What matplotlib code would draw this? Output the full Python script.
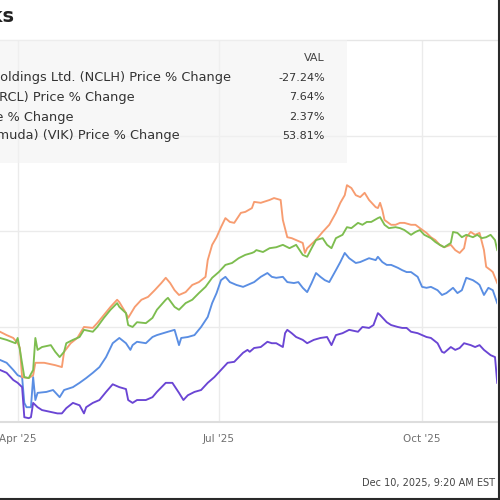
import pandas as pd
import matplotlib
matplotlib.use("Agg")
import matplotlib.pyplot as plt
from matplotlib.patches import Rectangle
from matplotlib.lines import Line2D

# ==========================================================
# Data (days counted from START)
# ==========================================================

START = "2025-03-24"

nclh_days = [0, 3, 6, 8, 10, 11, 12, 14, 15, 16, 17, 21, 24, 27, 29, 33, 36, 39, 42, 45,
             48, 51, 54, 57, 59, 60, 62, 66, 69, 71, 76, 79, 81, 82, 85, 88, 91, 94, 96, 98,
             100, 102, 104, 107, 110, 112, 114, 115, 118, 121, 123, 125, 128, 130, 133,
             135, 137, 139, 141, 143, 145, 147, 149, 152, 154, 156, 158, 161, 163, 165,
             167, 170, 171, 173, 175, 177, 180, 182, 184, 186, 189, 191, 193, 195, 198,
             200, 202, 205, 207, 209, 211, 214, 216, 217, 219, 221, 223, 225]
nclh_pct = [-27.0, -27.6, -29.1, -30.2, -30.6, -36.0, -36.9, -36.9, -30.6, -35.4,
            -33.9, -33.7, -33.3, -34.8, -33.3, -32.7, -31.8, -30.8, -29.7, -28.5,
            -26.4, -23.5, -22.4, -23.5, -24.9, -23.9, -23.2, -23.5, -22.2, -21.8,
            -21.1, -20.7, -23.9, -22.4, -22.2, -21.8, -20.1, -18.0, -15.1, -13.0,
            -10.3, -9.6, -10.7, -11.3, -11.7, -11.3, -10.9, -10.7, -9.6, -8.8,
            -9.6, -9.8, -9.6, -10.7, -10.9, -10.7, -11.9, -12.8, -10.9, -8.8,
            -9.6, -10.3, -10.7, -8.2, -6.5, -4.6, -5.7, -6.7, -6.5, -6.1,
            -5.7, -6.1, -5.4, -6.5, -7.1, -7.1, -7.7, -8.2, -8.6, -8.6,
            -9.6, -11.7, -11.9, -11.7, -12.4, -13.4, -13.0, -11.9, -13.0, -12.4,
            -9.8, -10.3, -10.9, -11.3, -13.4, -11.9, -12.4, -15.1]

rcl_days = [0, 3, 6, 8, 9, 10, 13, 15, 16, 20, 25, 28, 29, 32, 35, 38, 42, 44, 47, 50,
            53, 54, 57, 58, 61, 64, 67, 70, 73, 75, 77, 79, 81, 84, 87, 90, 93, 94, 96, 98,
            100, 102, 104, 106, 109, 111, 114, 115, 118, 122, 124, 127, 128, 130, 132,
            134, 137, 138, 139, 142, 144, 146, 149, 152, 154, 156, 157, 159, 161, 163,
            165, 167, 170, 171, 172, 173, 174, 177, 179, 181, 183, 186, 188, 190, 193,
            195, 197, 199, 201, 204, 206, 208, 210, 211, 213, 215, 217, 219, 220, 222,
            223, 225]
rcl_pct = [-21.1, -21.8, -22.4, -23.5, -24.5, -30.6, -30.8, -30.2, -27.6, -27.6,
           -28.1, -28.5, -25.3, -23.5, -22.4, -20.1, -20.3, -19.3, -17.6, -15.9,
           -14.4, -14.9, -17.2, -18.2, -15.9, -14.4, -13.8, -12.4, -10.9, -9.8,
           -10.9, -12.4, -13.4, -12.8, -11.3, -10.7, -9.6, -6.1, -2.9, -1.3,
           0.8, 2.7, 1.9, 1.7, 3.8, 4.0, 4.8, 6.1, 5.9, 6.5,
           6.9, 6.5, 2.3, -1.3, -1.5, -1.9, -2.5, -4.6, -3.6, -2.3,
           -1.3, -0.2, 1.3, 3.8, 5.9, 7.5, 9.6, 9.0, 7.5, 7.1,
           8.0, 6.5, 5.0, 4.8, 5.9, 4.4, 2.3, 1.3, 1.3, 1.7,
           1.7, 1.3, 1.3, 0.6, -0.4, -1.3, -1.9, -2.9, -3.4, -2.9,
           -4.0, -4.6, -3.6, -1.3, -0.2, -0.8, -0.4, -4.0, -7.5, -8.2,
           -8.6, -10.9]

ccl_days = [0, 3, 7, 8, 9, 11, 13, 15, 16, 17, 19, 23, 25, 27, 29, 30, 33, 36, 38, 42,
            44, 47, 50, 53, 54, 57, 58, 60, 62, 66, 69, 71, 75, 76, 79, 81, 84, 87, 90, 93,
            96, 99, 102, 105, 108, 111, 114, 115, 116, 119, 122, 125, 128, 131, 134,
            137, 139, 141, 143, 146, 148, 150, 152, 155, 157, 159, 162, 164, 166, 168,
            171, 172, 174, 176, 179, 181, 183, 186, 188, 190, 192, 195, 197, 199, 201,
            204, 205, 207, 209, 211, 214, 216, 218, 220, 222, 224, 225]
ccl_pct = [-22.4, -22.8, -23.5, -22.4, -24.9, -30.6, -30.8, -29.1, -22.4, -24.9,
           -24.3, -23.9, -25.3, -26.4, -25.3, -23.5, -22.8, -22.2, -20.7, -21.1,
           -20.1, -18.2, -16.5, -15.1, -15.9, -17.2, -19.7, -20.1, -19.1, -19.3,
           -18.2, -16.5, -14.4, -14.0, -15.9, -16.5, -15.1, -14.4, -13.0, -11.7,
           -9.8, -8.6, -7.1, -6.7, -5.7, -5.0, -4.6, -4.4, -4.0, -4.4,
           -3.6, -3.4, -2.9, -3.6, -2.9, -5.0, -5.4, -3.6, -1.9, -1.5,
           -2.9, -3.6, -1.5, -0.8, 0.8, 0.6, 1.7, 1.3, 1.9, 1.9,
           2.7, 2.9, 1.3, 0.6, 0.8, 0.6, 0.2, -0.8, -0.2, 0.2,
           -0.8, -1.5, -2.3, -2.9, -3.4, -2.5, -0.2, -0.4, -1.3, -0.8,
           -1.3, -0.8, -1.5, -1.3, -0.8, -1.9, -4.0]

vik_days = [0, 3, 6, 8, 10, 11, 13, 14, 15, 17, 19, 23, 26, 28, 30, 33, 36, 38, 39, 42,
            45, 48, 51, 54, 57, 58, 60, 62, 66, 69, 71, 75, 78, 81, 83, 85, 88, 91, 94, 97,
            100, 103, 106, 110, 112, 113, 115, 118, 121, 123, 125, 128, 129, 130, 132,
            134, 137, 139, 142, 145, 148, 150, 152, 155, 158, 162, 164, 167, 169, 171,
            172, 175, 177, 180, 182, 184, 186, 189, 191, 193, 195, 198, 200, 201, 204,
            206, 208, 210, 213, 215, 217, 219, 222, 224, 225]
vik_pct = [-29.1, -29.7, -31.2, -31.8, -32.7, -39.0, -39.2, -39.0, -36.0, -36.9,
           -37.5, -37.9, -38.2, -38.2, -37.1, -36.0, -36.5, -38.2, -36.9, -36.0,
           -35.4, -33.7, -32.1, -32.7, -33.1, -35.4, -36.0, -35.4, -35.4, -34.8,
           -33.7, -31.8, -31.8, -33.9, -35.4, -34.4, -33.7, -33.3, -31.8, -30.6,
           -29.1, -27.6, -27.4, -25.5, -24.9, -25.3, -24.5, -24.3, -23.2, -23.5,
           -23.5, -24.3, -21.4, -20.7, -21.4, -22.2, -22.8, -23.5, -22.8, -22.4,
           -22.2, -23.9, -21.8, -21.4, -20.7, -21.1, -20.1, -20.3, -19.7, -17.2,
           -17.6, -19.1, -19.7, -20.1, -20.3, -20.3, -21.1, -21.4, -21.8, -22.2,
           -22.4, -23.5, -25.3, -25.5, -24.3, -24.9, -24.5, -23.5, -23.9, -24.3,
           -23.9, -24.9, -26.0, -26.4, -31.8]

legend_names = [
    "Norwegian Cruise Line Holdings Ltd. (NCLH) Price % Change",
    "Royal Caribbean Group (RCL) Price % Change",
    "Carnival Corp (CCL) Price % Change",
    "Viking Holdings Ltd (Bermuda) (VIK) Price % Change",
]
legend_vals = ["-27.24%", "7.64%", "2.37%", "53.81%"]

tick_dates = ["2025-04-01", "2025-07-01", "2025-10-01"]
tick_labels = ["Apr '25", "Jul '25", "Oct '25"]

colors = ["#5a8ee3", "#f79c70", "#7dbd4f", "#6a45d4"]

# ==========================================================
# Figure
# ==========================================================

W = H = 500.0


def fx(px):
    return px / W


def fy(py):
    return 1 - py / H


fig = plt.figure(figsize=(5, 5), dpi=100)
fig.patch.set_facecolor("white")

ax = fig.add_axes([0, fy(422), fx(497), fy(40) - fy(422)])

start = pd.Timestamp(START)
series = [
    (nclh_days, nclh_pct),
    (rcl_days, rcl_pct),
    (ccl_days, ccl_pct),
    (vik_days, vik_pct),
]
for (days, pct), c in zip(series, colors):
    dates = start + pd.to_timedelta(days, unit="D")
    ax.plot(dates, pct, color=c, linewidth=1.35, zorder=3)

ax.set_xlim(start, start + pd.Timedelta(days=224.9))
ax.set_ylim(-40, 40)

ax.set_xticks(pd.to_datetime(tick_dates))
ax.set_xticklabels(tick_labels, fontsize=7.5, color="#6f6f6f")
ax.set_yticks([-20, 0, 20])
ax.set_yticklabels([])
ax.tick_params(length=0, pad=9)
ax.grid(True, color="#ebebeb", linewidth=1.0, zorder=0)

for side in ["left", "right"]:
    ax.spines[side].set_visible(False)
ax.spines["bottom"].set_color("#dddddd")
ax.spines["bottom"].set_linewidth(1.5)
ax.spines["top"].set_color("#e6e6e6")
ax.spines["top"].set_linewidth(1.0)

# legend table (cut off at the left, as in the reference)
fig.add_artist(Rectangle((fx(-200), fy(163)), fx(547), fy(40) - fy(163),
                         transform=fig.transFigure, facecolor="#f2f2f2",
                         alpha=0.6, edgecolor="none", zorder=1))
fig.text(fx(325), fy(58), "VAL", ha="right", va="center", fontsize=8,
         color="#444444")
rows_y = [78, 97, 117, 136]
for name, val, yy in zip(legend_names, legend_vals, rows_y):
    fig.text(fx(-159), fy(yy), name, ha="left", va="center", fontsize=9.3,
             color="#333333")
    fig.text(fx(325), fy(yy), val, ha="right", va="center", fontsize=8,
             color="#333333")

# title (only its tail is visible)
fig.text(fx(14), fy(17), "Cruise Line Stocks", ha="right", va="center",
         fontsize=14, fontweight="bold", color="#222222")

# timestamp
fig.text(fx(495), fy(483), "Dec 10, 2025, 9:20 AM EST", ha="right",
         va="center", fontsize=7, color="#444444")

# frame edges of the screenshot
fig.add_artist(Line2D([fx(498.5), fx(498.5)], [0, 1], transform=fig.transFigure,
                      color="#2a2a2a", linewidth=1.5))
fig.add_artist(Line2D([0, 1], [fy(498.5), fy(498.5)], transform=fig.transFigure,
                      color="#2a2a2a", linewidth=1.5))

fig.savefig("out.png", dpi=100)
plt.close(fig)
